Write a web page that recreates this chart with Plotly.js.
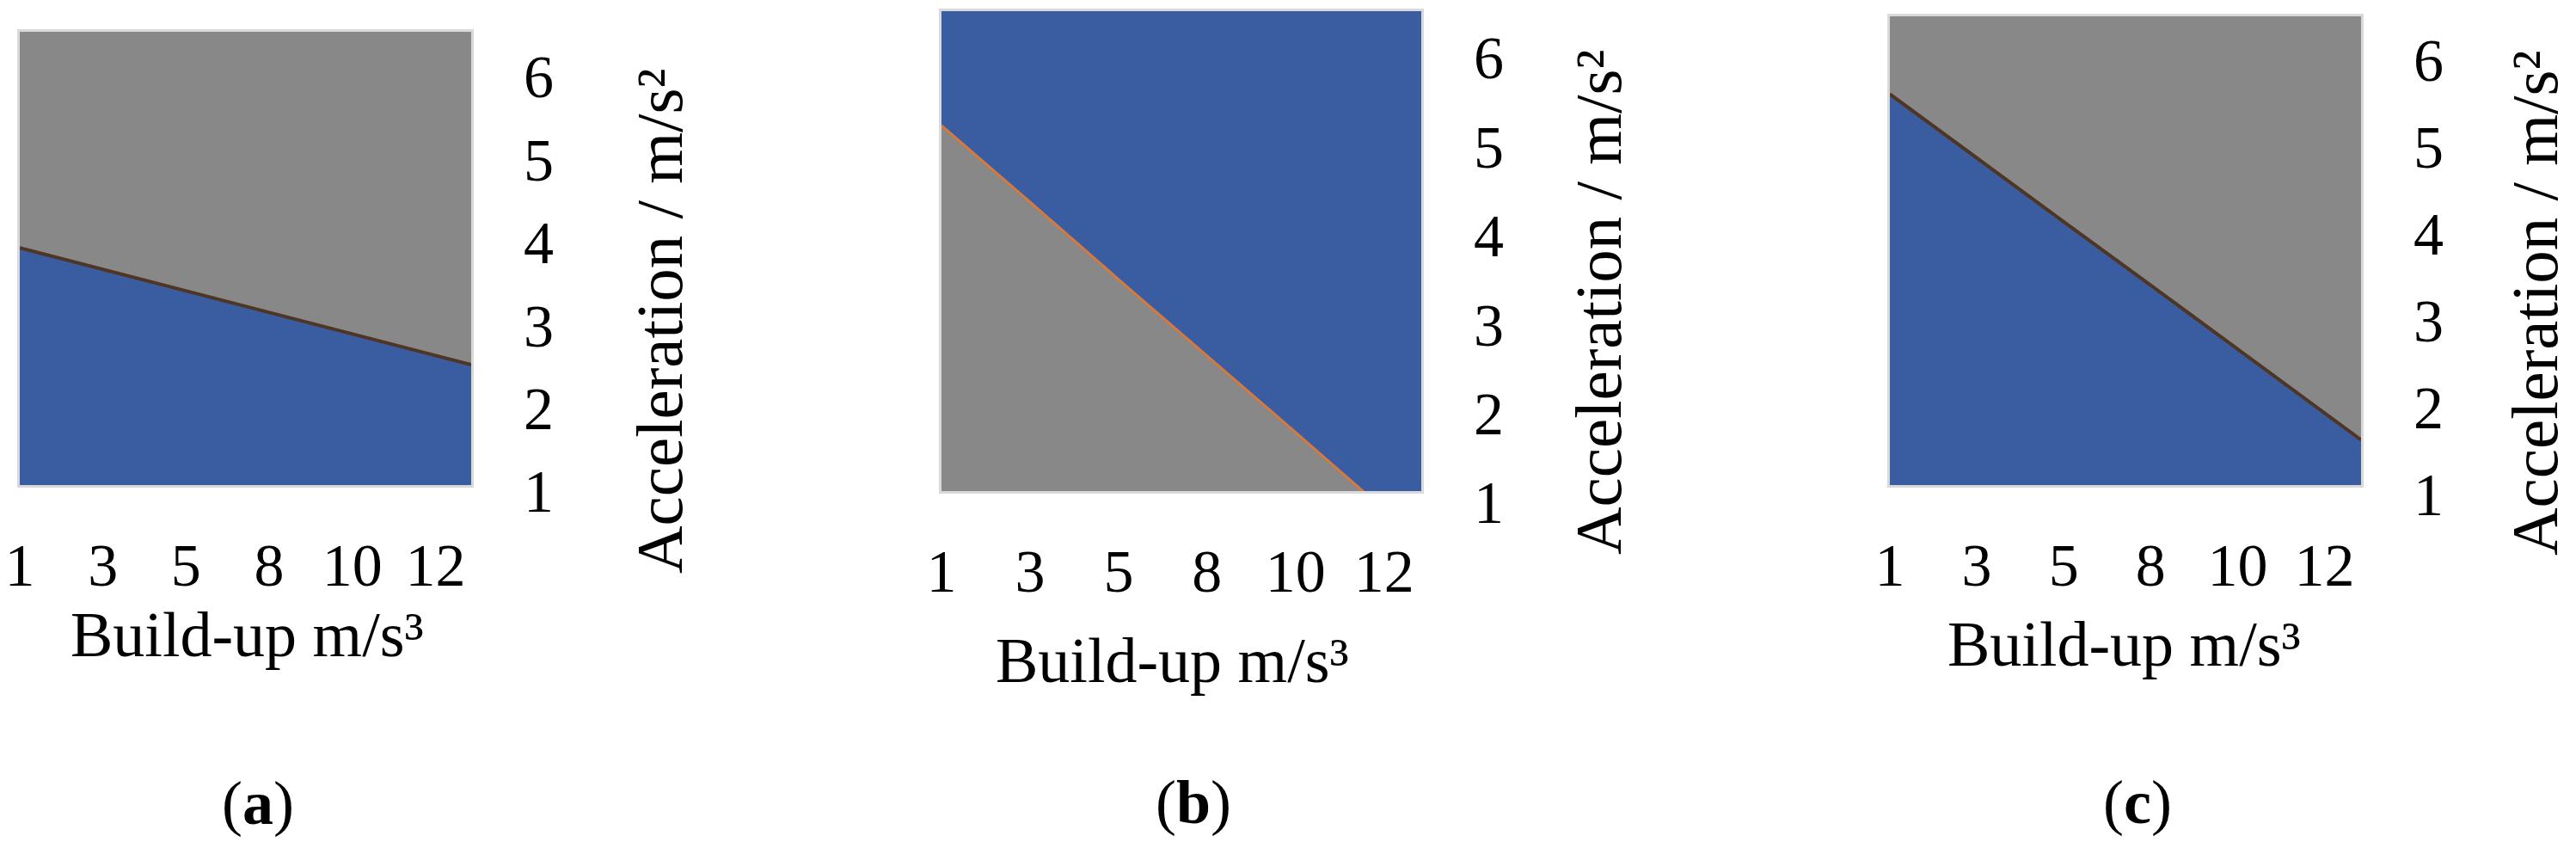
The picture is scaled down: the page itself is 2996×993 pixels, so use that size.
<!DOCTYPE html>
<html>
<head>
<meta charset="utf-8">
<script src="https://cdn.plot.ly/plotly-3.0.1.min.js"></script>
<style>
  html, body { margin: 0; padding: 0; background: #fff; }
  #plot { width: 2996px; height: 993px; }
</style>
</head>
<body>
<div id="plot"></div>
<script>
// tick labels
const buildUp = ["1", "3", "5", "8", "10", "12"];
const accelTicks = [1, 2, 3, 4, 5, 6];

// acceleration at the boundary between the two regions, read at each build-up label,
// plus the value where the boundary meets the right edge of the plot
const boundaryA = [3.86, 3.60, 3.34, 3.08, 2.82, 2.56];
const boundaryAEdge = 2.45;
const boundaryB = [5.11, 4.25, 3.38, 2.52, 1.66, 0.79];
const boundaryBEdge = 0.43;
const boundaryC = [5.50, 4.76, 4.03, 3.30, 2.56, 1.83];
const boundaryCEdge = 1.52;

const panelLabels = ["a", "b", "c"];

const W = 2996, H = 993;
const GREY = "#888888", BLUE = "#3a5ca1";
const FONT = "'Liberation Serif', 'Times New Roman', serif";
const TICK_SIZE = 70;

// layout of each panel in pixels
const panels = [
  {
    vals: boundaryA, edge: boundaryAEdge,
    left: 23, right: 548, top: 37, bottom: 564,
    xEnd: 5.43, yStep: 96.4, yShift: 7,
    upper: GREY, lower: BLUE, lineColor: "#4f3524", lineWidth: 4,
    xTitle: [287, 738], yTitle: [767, 373], label: [300, 934],
  },
  {
    vals: boundaryB, edge: boundaryBEdge,
    left: 1095, right: 1653, top: 13, bottom: 571,
    xEnd: 5.42, yStep: 103.4, yShift: 13,
    upper: BLUE, lower: GREY, lineColor: "#d7793a", lineWidth: 3,
    xTitle: [1363, 768], yTitle: [1859, 351], label: [1388, 933],
  },
  {
    vals: boundaryC, edge: boundaryCEdge,
    left: 2198, right: 2746, top: 19, bottom: 564,
    xEnd: 5.42, yStep: 101, yShift: 11,
    upper: GREY, lower: BLUE, lineColor: "#4f3524", lineWidth: 4,
    xTitle: [2470, 749], yTitle: [2948, 352], label: [2486, 933],
  },
];

const px = (x) => x / W;
const py = (y) => 1 - y / H;

const traces = [];
const shapes = [];
const annotations = [];
const layout = {
  width: W,
  height: H,
  margin: { l: 0, r: 0, t: 0, b: 0 },
  paper_bgcolor: "#ffffff",
  plot_bgcolor: "#ffffff",
  showlegend: false,
  font: { family: FONT, size: TICK_SIZE, color: "#000000" },
};

panels.forEach((p, i) => {
  const n = i === 0 ? "" : String(i + 1);
  const xIdx = buildUp.map((_, k) => k);

  // boundary line, region below it filled with the lower colour
  traces.push({
    type: "scatter",
    mode: "lines",
    x: xIdx.concat([p.xEnd]),
    y: p.vals.concat([p.edge]),
    xaxis: "x" + n,
    yaxis: "y" + n,
    line: { color: p.lineColor, width: p.lineWidth },
    fill: "tozeroy",
    fillcolor: p.lower,
    hoverinfo: "skip",
  });

  // region above the boundary
  shapes.push({
    type: "rect",
    xref: "x" + n + " domain",
    yref: "y" + n + " domain",
    x0: 0, x1: 1, y0: 0, y1: 1,
    fillcolor: p.upper,
    line: { width: 0 },
    layer: "below",
  });

  const yTop = 0.999 + (p.bottom - p.top) / p.yStep;

  layout["xaxis" + n] = {
    domain: [px(p.left), px(p.right)],
    anchor: "y" + n,
    range: [0, p.xEnd],
    tickvals: xIdx,
    ticktext: buildUp,
    ticks: "",
    ticklabelstandoff: 30,
    showgrid: false,
    zeroline: false,
    showline: true,
    mirror: true,
    linecolor: "#d9d9d9",
    linewidth: 3,
    tickfont: { family: FONT, size: TICK_SIZE, color: "#000" },
    fixedrange: true,
  };
  layout["yaxis" + n] = {
    domain: [py(p.bottom), py(p.top)],
    anchor: "x" + n,
    side: "right",
    range: [0.999, yTop],
    tickvals: accelTicks,
    ticks: "",
    ticklabelstandoff: 44,
    ticklabelshift: p.yShift,
    showgrid: false,
    zeroline: false,
    showline: true,
    mirror: true,
    linecolor: "#d9d9d9",
    linewidth: 3,
    tickfont: { family: FONT, size: TICK_SIZE, color: "#000" },
    fixedrange: true,
  };

  annotations.push({
    text: "Build-up m/s³",
    xref: "paper", yref: "paper",
    x: px(p.xTitle[0]), y: py(p.xTitle[1]),
    xanchor: "center", yanchor: "middle",
    showarrow: false,
    font: { family: FONT, size: 74, color: "#000" },
  });
  annotations.push({
    text: "Acceleration / m/s²",
    xref: "paper", yref: "paper",
    x: px(p.yTitle[0]), y: py(p.yTitle[1]),
    xanchor: "center", yanchor: "middle",
    textangle: -90,
    showarrow: false,
    font: { family: FONT, size: 77, color: "#000" },
  });
  annotations.push({
    text: "(<b>" + panelLabels[i] + "</b>)",
    xref: "paper", yref: "paper",
    x: px(p.label[0]), y: py(p.label[1]),
    xanchor: "center", yanchor: "middle",
    showarrow: false,
    font: { family: FONT, size: 72, color: "#000" },
  });
});

layout.shapes = shapes;
layout.annotations = annotations;

Plotly.newPlot("plot", traces, layout, { displayModeBar: false, staticPlot: true });
</script>
</body>
</html>
